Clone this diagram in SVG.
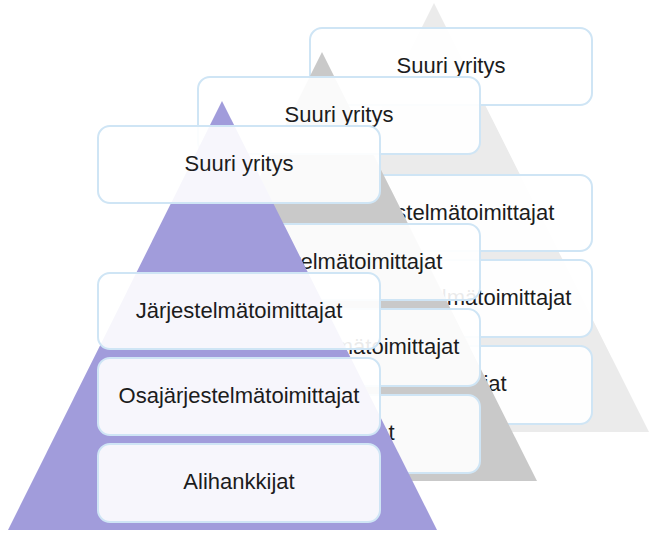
<svg xmlns="http://www.w3.org/2000/svg" width="656" height="537" viewBox="0 0 656 537">
  <style>
    .box { fill: #ffffff; fill-opacity: 0.91; stroke: #cfe5f5; stroke-width: 2; }
    .lbl { font-family: "Liberation Sans", Arial, sans-serif; font-size: 22px; fill: #1c1c1c; text-anchor: middle; }
    .p-back { fill: #ebebeb; }
    .p-mid { fill: #c9c9c9; }
    .p-front { fill: #a19cdb; }
  </style>
  <rect width="656" height="537" fill="#ffffff"/>

  <!-- Back pyramid -->
  <g id="pyramid-back" transform="translate(212,-98)">
    <polygon class="p-back" points="222,101 8,530 437,530"/>
    <g id="back-suuri"><rect class="box" x="98" y="126" width="282" height="77" rx="12"/><text class="lbl" x="239" y="171">Suuri yritys</text></g>
    <g id="back-jarj"><rect class="box" x="98" y="273" width="282" height="76" rx="12"/><text class="lbl" x="239" y="318">Järjestelmätoimittajat</text></g>
    <g id="back-osa"><rect class="box" x="98" y="358" width="282" height="77" rx="12"/><text class="lbl" x="239" y="403">Osajärjestelmätoimittajat</text></g>
    <g id="back-ali"><rect class="box" x="98" y="444" width="282" height="78" rx="12"/><text class="lbl" x="239" y="489">Alihankkijat</text></g>
  </g>

  <!-- Middle pyramid -->
  <g id="pyramid-middle" transform="translate(100,-49)">
    <polygon class="p-mid" points="222,101 8,530 437,530"/>
    <g id="mid-suuri"><rect class="box" x="98" y="126" width="282" height="77" rx="12"/><text class="lbl" x="239" y="171">Suuri yritys</text></g>
    <g id="mid-jarj"><rect class="box" x="98" y="273" width="282" height="76" rx="12"/><text class="lbl" x="239" y="318">Järjestelmätoimittajat</text></g>
    <g id="mid-osa"><rect class="box" x="98" y="358" width="282" height="77" rx="12"/><text class="lbl" x="239" y="403">Osajärjestelmätoimittajat</text></g>
    <g id="mid-ali"><rect class="box" x="98" y="444" width="282" height="78" rx="12"/><text class="lbl" x="239" y="489">Alihankkijat</text></g>
  </g>

  <!-- Front pyramid -->
  <g id="pyramid-front">
    <polygon class="p-front" points="222,101 8,530 437,530"/>
    <g id="front-suuri"><rect class="box" x="98" y="126" width="282" height="77" rx="12"/><text class="lbl" x="239" y="171">Suuri yritys</text></g>
    <g id="front-jarj"><rect class="box" x="98" y="273" width="282" height="76" rx="12"/><text class="lbl" x="239" y="318">Järjestelmätoimittajat</text></g>
    <g id="front-osa"><rect class="box" x="98" y="358" width="282" height="77" rx="12"/><text class="lbl" x="239" y="403">Osajärjestelmätoimittajat</text></g>
    <g id="front-ali"><rect class="box" x="98" y="444" width="282" height="78" rx="12"/><text class="lbl" x="239" y="489">Alihankkijat</text></g>
  </g>

  <g id="connectors"/>
</svg>
